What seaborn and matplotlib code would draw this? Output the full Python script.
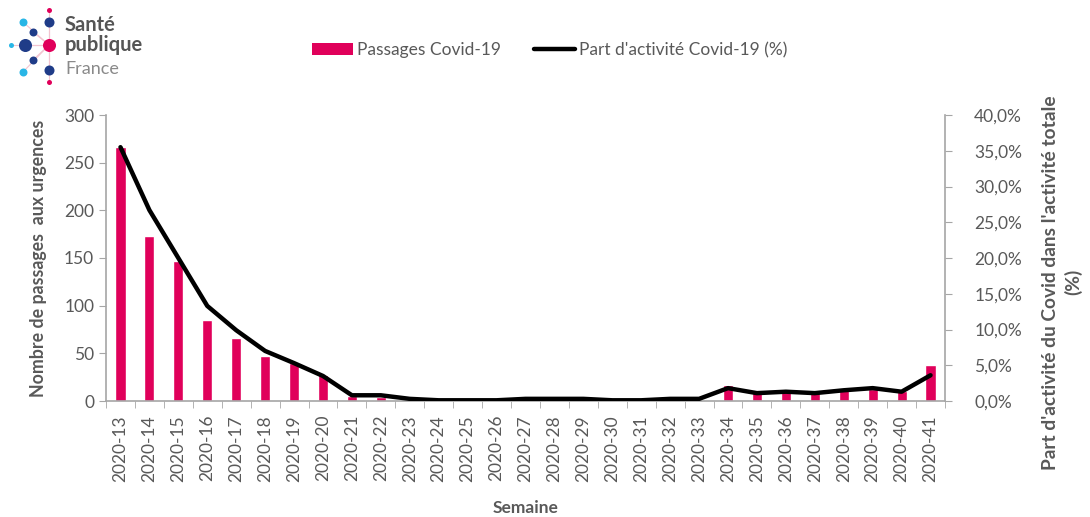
import matplotlib
matplotlib.use("Agg")
import matplotlib.pyplot as plt
import matplotlib.ticker as mticker
from matplotlib.patches import Patch
from matplotlib.lines import Line2D
import seaborn as sns
import pandas as pd

sns.set_style("white")
plt.rcParams['font.family'] = ['Lato', 'DejaVu Sans']

# ── data ────────────────────────────────────────────────────────────────────
weeks = [f"2020-{w}" for w in range(13, 42)]
passages = [266, 173, 147, 85, 66, 47, 40, 27, 5, 4, 1, 0, 0, 0, 1, 1, 1, 0,
            0, 1, 1, 17, 9, 11, 11, 12, 13, 11, 38]
part_pct = [35.5, 26.7, 20.0, 13.3, 9.9, 7.0, 5.3, 3.5, 0.8, 0.8, 0.3, 0.1,
            0.1, 0.1, 0.3, 0.3, 0.3, 0.1, 0.1, 0.3, 0.3, 1.8, 1.1, 1.3, 1.1,
            1.5, 1.8, 1.3, 3.6]

df = pd.DataFrame({"Semaine": weeks, "Passages": passages, "Part": part_pct})

BAR = "#E0005A"
GREY = "#595959"
AX_GREY = "#A6A6A6"

fig = plt.figure(figsize=(10.9, 5.17), dpi=100)
ax = fig.add_axes([106 / 1090, 1 - 401 / 517, (945 - 106) / 1090, (401 - 115) / 517])

sns.barplot(data=df, x="Semaine", y="Passages", color=BAR, width=0.35,
            saturation=1, ax=ax)
ax.set_ylim(0, 300)
ax.set_xlim(-0.5, len(weeks) - 0.5)
ax.set_yticks(range(0, 301, 50))

ax2 = ax.twinx()
sns.lineplot(x=range(len(weeks)), y=df["Part"], color="black", linewidth=3.2, ax=ax2)
ax2.set_ylim(0, 40)
ax2.set_yticks(range(0, 41, 5))
ax2.yaxis.set_major_formatter(mticker.FuncFormatter(lambda v, _: f"{v:.1f}%".replace(".", ",")))

# spines and ticks
for a in (ax, ax2):
    for s in a.spines.values():
        s.set_visible(False)
ax.spines["left"].set_visible(True)
ax.spines["bottom"].set_visible(True)
ax2.spines["right"].set_visible(True)
for s in (ax.spines["left"], ax.spines["bottom"], ax2.spines["right"]):
    s.set_color(AX_GREY)
    s.set_linewidth(1.2)

ax.tick_params(axis="y", direction="out", length=5, color=AX_GREY, labelsize=12.5, labelcolor=GREY, left=True)
ax2.tick_params(axis="y", direction="out", length=5, color=AX_GREY, labelsize=12.5, labelcolor=GREY, right=True, pad=16)
ax.set_xticks(range(len(weeks)))
ax.set_xticklabels(weeks, rotation=90, fontsize=12.5, color=GREY)
ax.tick_params(axis="x", which="major", length=0, pad=10)
ax.set_xticks([i - 0.5 for i in range(len(weeks) + 1)], minor=True)
ax.tick_params(axis="x", which="minor", direction="out", length=5, color=AX_GREY, bottom=True)

ax.set_xlabel("Semaine", fontsize=12.5, fontweight="bold", color=GREY, labelpad=13)
ax.set_ylabel("Nombre de passages  aux urgences", fontsize=12.8, fontweight="bold", color=GREY, labelpad=12)
ax2.set_ylabel("Part d'activité du Covid dans l'activité totale\n(%)", fontsize=13.8,
               fontweight="bold", color=GREY, rotation=90, linespacing=1.3)
ax2.yaxis.set_label_coords(1.116, 0.415)

# legend
handles = [Patch(facecolor=BAR, edgecolor="none"), Line2D([0], [0], color="black", linewidth=3.2)]
fig.legend(handles, ["Passages Covid-19", "Part d'activité Covid-19 (%)"], loc="center",
           bbox_to_anchor=(0.504, 1 - 50 / 517), ncol=2, frameon=False, fontsize=12.5,
           labelcolor=GREY, handlelength=2.4, handletextpad=0.2, columnspacing=1.9)

# logo
lg = fig.add_axes([0, 1 - 90 / 517, 160 / 1090, 90 / 517])
lg.set_xlim(0, 160)
lg.set_ylim(90, 0)
lg.axis("off")
cx, cy = 49, 45
dots = [(25, 45, 88, "#1F3C88"), (49, 22, 52, "#1F3C88"), (49, 70, 52, "#1F3C88"),
        (33, 32, 33, "#1F3C88"), (33, 60, 33, "#1F3C88"), (23, 22, 33, "#29B6E6"),
        (23, 72, 33, "#29B6E6"), (11, 45, 13, "#29B6E6"), (49, 10, 13, "#E0005A"),
        (49, 82, 13, "#E0005A")]
for x, y, s, c in dots:
    lg.plot([cx, x], [cy, y], color="#F2C4D0", linewidth=0.8, zorder=1)
    lg.scatter([x], [y], s=s, color=c, zorder=2, linewidths=0)
lg.scatter([cx], [cy], s=88, color="#E0005A", zorder=3, linewidths=0)
lg.text(65, 25, "Santé", fontsize=14.5, fontweight="bold", color="#555555", va="center")
lg.text(65, 45, "publique", fontsize=14.5, fontweight="bold", color="#555555", va="center")
lg.text(65, 69, "France", fontsize=13, color="#8A8A8A", va="center")

fig.savefig("out.png", dpi=100)
